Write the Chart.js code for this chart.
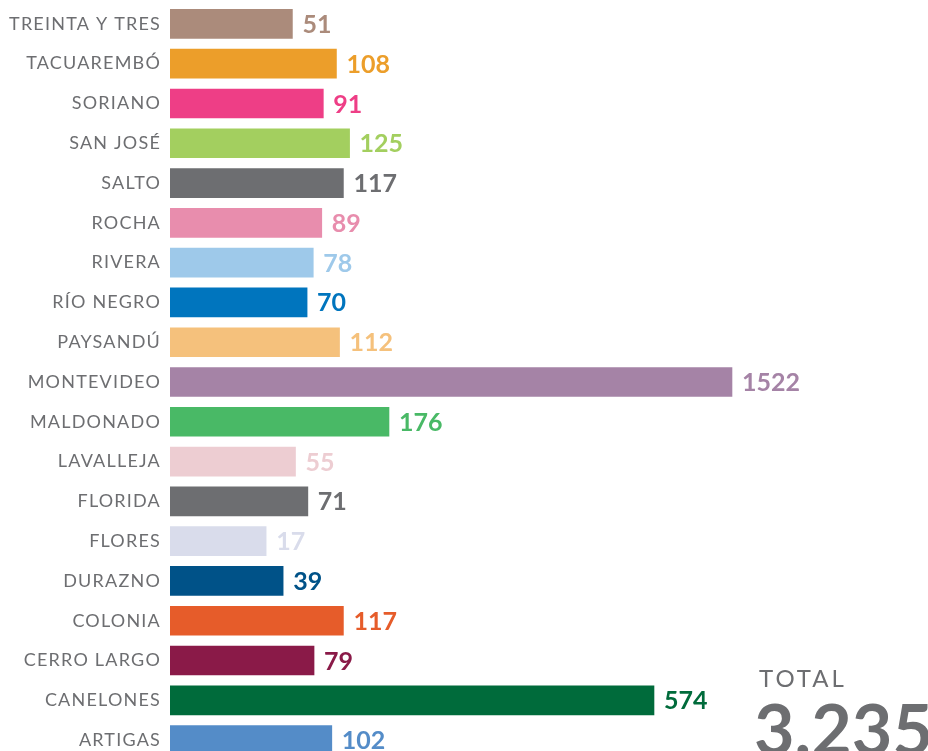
<!DOCTYPE html>
<html><head><meta charset="utf-8">
<script src="https://cdn.jsdelivr.net/npm/chart.js@4.4.1/dist/chart.umd.min.js"></script>
<style>
html,body{margin:0;padding:0;background:#fff;overflow:hidden;width:928px;height:751px;}
#wrap{position:absolute;left:0;top:0;width:928px;height:760px;}
#totalLbl{position:absolute;left:759px;top:666px;font:400 24px/24px Lato,sans-serif;color:#6d6e71;letter-spacing:3px;white-space:nowrap;}
#totalVal{position:absolute;left:754px;top:693px;font:700 70px/70px Lato,sans-serif;color:#6d6e71;white-space:nowrap;}
</style></head>
<body>
<div id="wrap"><canvas id="c"></canvas></div>
<div id="totalLbl"></div>
<div id="totalVal"></div>
<script>
// ---- data ----
const categories = ['TREINTA Y TRES','TACUAREMBÓ','SORIANO','SAN JOSÉ','SALTO','ROCHA','RIVERA','RÍO NEGRO','PAYSANDÚ','MONTEVIDEO','MALDONADO','LAVALLEJA','FLORIDA','FLORES','DURAZNO','COLONIA','CERRO LARGO','CANELONES','ARTIGAS'];
const values = [51,108,91,125,117,89,78,70,112,1522,176,55,71,17,39,117,79,574,102];
const colors = ['#ab8b7b','#ec9e2a','#ee3e86','#a3cf5f','#6d6e71','#e88dad','#9ec9ea','#0075be','#f5c17c','#a583a6','#49b966','#edcdd2','#6d6e71','#d9dceb','#005288','#e65c2a','#8a1a48','#006b3b','#548cc8'];
const totalLabel = 'TOTAL';
const totalValue = '3.235';

document.getElementById('totalLbl').textContent = totalLabel;
document.getElementById('totalVal').textContent = totalValue;

// piecewise (broken) value axis as used by the infographic: value -> fraction of axis width
const knots = [[0,0],[0.001,0.1095],[176,0.2889],[574,0.6385],[1522,0.7414],[2000,1]];
function valToFrac(v){
  if (v <= knots[0][0]) return knots[0][1];
  for (let i=1;i<knots.length;i++){
    const [v0,f0]=knots[i-1],[v1,f1]=knots[i];
    if (v<=v1) return f0+(f1-f0)*(v-v0)/(v1-v0);
  }
  return knots[knots.length-1][1];
}
function fracToVal(f){
  for (let i=1;i<knots.length;i++){
    const [v0,f0]=knots[i-1],[v1,f1]=knots[i];
    if (f<=f1) return v0+(v1-v0)*(f-f0)/(f1-f0);
  }
  return knots[knots.length-1][0];
}
class PiecewiseScale extends Chart.LinearScale {
  getPixelForValue(v){ return this.left + valToFrac(v) * this.width; }
  getValueForPixel(p){ return fracToVal((p - this.left) / this.width); }
}
PiecewiseScale.id = 'piecewise';
PiecewiseScale.defaults = Chart.LinearScale.defaults;
Chart.register(PiecewiseScale);

const labelSpacing = {
  id:'labelSpacing',
  beforeDraw(chart){ chart.ctx.letterSpacing = '1.2px'; },
  beforeDatasetsDraw(chart){ chart.ctx.letterSpacing = '0px'; }
};

const valueLabels = {
  id:'valueLabels',
  afterDatasetsDraw(chart){
    const ctx = chart.ctx;
    const meta = chart.getDatasetMeta(0);
    ctx.save();
    ctx.letterSpacing = '0px';
    ctx.font = '700 25px Lato, sans-serif';
    ctx.textBaseline = 'middle';
    ctx.textAlign = 'left';
    meta.data.forEach((bar,i)=>{
      ctx.fillStyle = colors[i];
      ctx.fillText(String(values[i]), bar.x + 10, bar.y + 1);
    });
    ctx.restore();
  }
};

new Chart(document.getElementById('c'), {
  type:'bar',
  data:{
    labels: categories,
    datasets:[{ data: values, backgroundColor: colors, borderWidth:0, barThickness:29 }]
  },
  options:{
    indexAxis:'y',
    responsive:true,
    maintainAspectRatio:false,
    animation:false,
    layout:{ padding:{ top:4, right:0, bottom:0, left:0 } },
    plugins:{ legend:{display:false}, tooltip:{enabled:false} },
    scales:{
      x:{ type:'piecewise', display:false, min:0, max:2000 },
      y:{
        grid:{ display:false, drawTicks:false },
        border:{ display:false },
        ticks:{ color:'#6d6e71', padding:9, font:{ family:'Lato, sans-serif', size:18, weight:'400' } },
        afterFit(scale){ scale.width = 170; scale.paddingTop = 0; scale.paddingBottom = 0; }
      }
    }
  },
  plugins:[labelSpacing, valueLabels]
});
</script>
</body></html>
